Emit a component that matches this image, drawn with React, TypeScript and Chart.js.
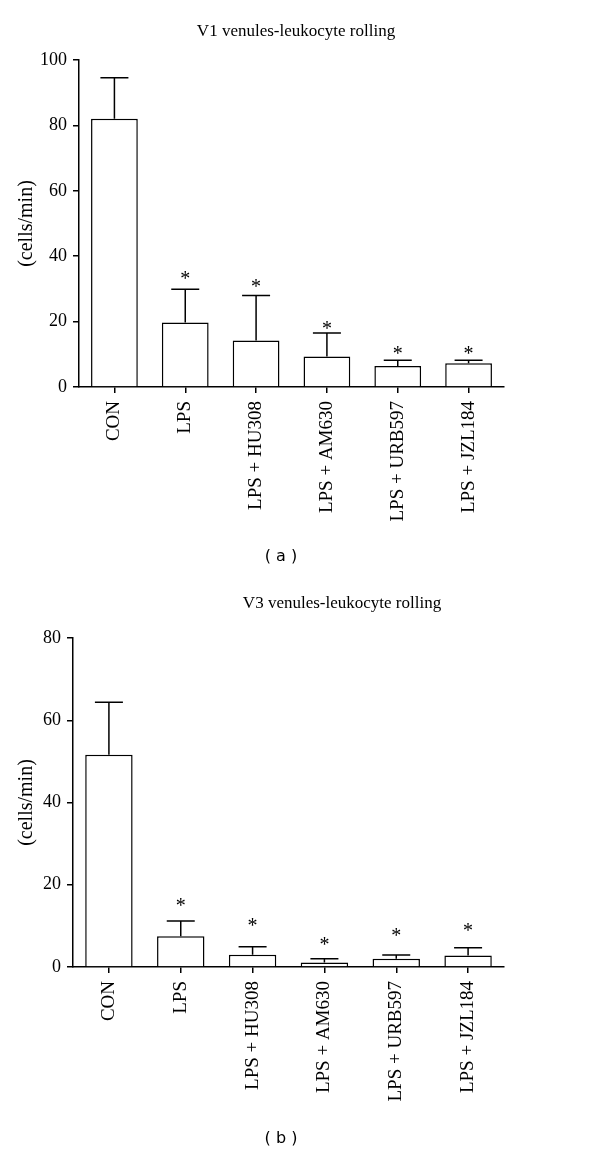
import React, { useEffect, useRef } from "react";
import { Chart, registerables } from "chart.js";

Chart.register(...registerables);

// ---- data ----
const categories = ["CON", "LPS", "LPS + HU308", "LPS + AM630", "LPS + URB597", "LPS + JZL184"];

const v1Means = [82.0, 19.7, 14.2, 9.3, 6.4, 7.3];
const v1ErrTop = [94.6, 29.9, 28.0, 16.5, 8.2, 8.2];
const v1Stars: (number | null)[] = [null, 34.2, 31.8, 18.9, 11.2, 11.2];
const v1Ticks = [0, 20, 40, 60, 80, 100];

const v3Means = [51.6, 7.5, 3.0, 1.1, 2.0, 2.8];
const v3ErrTop = [64.4, 11.2, 4.9, 2.0, 2.9, 4.7];
const v3Stars: (number | null)[] = [null, 15.8, 10.7, 6.1, 8.5, 9.5];
const v3Ticks = [0, 20, 40, 60, 80];

const SERIF = "'Liberation Serif', 'Times New Roman', serif";
const SANS = "'DejaVu Sans', Verdana, sans-serif";

type PanelProps = {
  height: number;
  title: string;
  titleX: number;
  titleBaseline: number;
  label: string;
  labelY: number;
  means: number[];
  errTop: number[];
  stars: (number | null)[];
  ticks: number[];
  padTop: number;
  yWidth: number;
};

function Panel(p: PanelProps) {
  const ref = useRef<HTMLCanvasElement | null>(null);
  useEffect(() => {
    const canvas = ref.current;
    if (!canvas) return;
    const decor = {
      id: "decor",
      afterDatasetsDraw(chart: any) {
        const ctx = chart.ctx;
        const y = chart.scales.y;
        const meta = chart.getDatasetMeta(0);
        ctx.save();
        ctx.strokeStyle = "#000";
        ctx.lineWidth = 1.5;
        meta.data.forEach((bar: any, i: number) => {
          const x = bar.x;
          const yTop = y.getPixelForValue(p.means[i]);
          const yErr = y.getPixelForValue(p.errTop[i]);
          ctx.beginPath();
          ctx.moveTo(x, yTop);
          ctx.lineTo(x, yErr);
          ctx.moveTo(x - 14, yErr);
          ctx.lineTo(x + 14, yErr);
          ctx.stroke();
          const s = p.stars[i];
          if (s !== null && s !== undefined) {
            ctx.fillStyle = "#000";
            ctx.font = `20px ${SERIF}`;
            ctx.textAlign = "center";
            ctx.textBaseline = "alphabetic";
            ctx.fillText("*", x, y.getPixelForValue(s) + 9.5);
          }
        });
        ctx.restore();
      },
      afterDraw(chart: any) {
        const ctx = chart.ctx;
        ctx.save();
        ctx.fillStyle = "#000";
        ctx.textAlign = "center";
        ctx.textBaseline = "alphabetic";
        ctx.font = `17px ${SERIF}`;
        ctx.fillText(p.title, p.titleX, p.titleBaseline);
        ctx.font = `16px ${SANS}`;
        ctx.textBaseline = "middle";
        ctx.fillText(p.label, 281, p.labelY);
        ctx.restore();
      },
    };
    const yMax = p.ticks[p.ticks.length - 1];
    const chart = new Chart(canvas, {
      type: "bar",
      data: {
        labels: categories,
        datasets: [
          {
            data: p.means,
            backgroundColor: "#ffffff",
            borderColor: "#000000",
            borderWidth: 1.5,
            categoryPercentage: 1,
            barPercentage: 0.66,
          },
        ],
      },
      options: {
        responsive: false,
        animation: false,
        devicePixelRatio: 1,
        layout: { padding: { left: 0, right: 96, top: p.padTop, bottom: 0 } },
        plugins: { legend: { display: false }, tooltip: { enabled: false }, title: { display: false } },
        scales: {
          x: {
            type: "category",
            grid: {
              display: true,
              drawOnChartArea: false,
              drawTicks: true,
              tickLength: 6,
              offset: false,
              color: "#000",
              lineWidth: 1.5,
            },
            border: { display: true, color: "#000", width: 1.5 },
            ticks: {
              autoSkip: false,
              maxRotation: 90,
              minRotation: 90,
              padding: 8,
              color: "#000",
              font: { family: SERIF, size: 19 },
            },
            afterFit: (s: any) => {
              s.height = p.height - 387;
            },
          },
          y: {
            type: "linear",
            min: 0,
            max: yMax,
            grid: {
              display: true,
              drawOnChartArea: false,
              drawTicks: true,
              tickLength: 6,
              color: "#000",
              lineWidth: 1.5,
            },
            border: { display: true, color: "#000", width: 1.5 },
            ticks: {
              padding: 6,
              color: "#000",
              font: { family: SERIF, size: 18 },
            },
            afterBuildTicks: (s: any) => {
              s.ticks = p.ticks.map((v) => ({ value: v }));
            },
            title: {
              display: true,
              text: "(cells/min)",
              color: "#000",
              font: { family: SERIF, size: 20 },
              padding: { top: 15, bottom: 0 },
            },
            afterFit: (s: any) => {
              s.width = p.yWidth;
            },
          },
        },
      },
      plugins: [decor],
    } as any);
    return () => chart.destroy();
  }, []);
  return <canvas ref={ref} width={600} height={p.height} style={{ display: "block", width: 600, height: p.height }} />;
}

export default function App() {
  return (
    <div style={{ position: "absolute", left: 0, top: 0, width: 600, height: 1156, background: "#fff" }}>
      <Panel
        height={580}
        title="V1 venules-leukocyte rolling"
        titleX={296}
        titleBaseline={36}
        label="( a )"
        labelY={557}
        means={v1Means}
        errTop={v1ErrTop}
        stars={v1Stars}
        ticks={v1Ticks}
        padTop={60}
        yWidth={79}
      />
      <Panel
        height={576}
        title="V3 venules-leukocyte rolling"
        titleX={342}
        titleBaseline={28}
        label="( b )"
        labelY={559}
        means={v3Means}
        errTop={v3ErrTop}
        stars={v3Stars}
        ticks={v3Ticks}
        padTop={58}
        yWidth={73}
      />
    </div>
  );
}
